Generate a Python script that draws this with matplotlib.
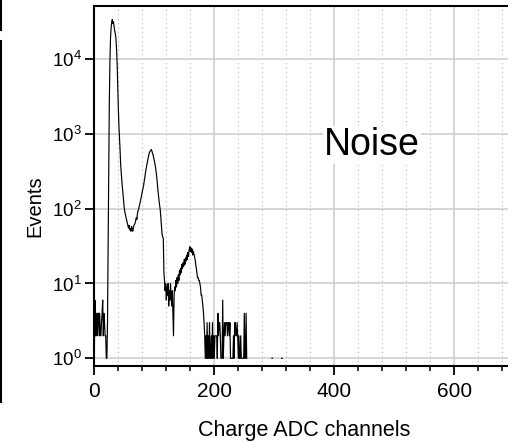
import numpy as np
import matplotlib
matplotlib.use("Agg")
import matplotlib.pyplot as plt
from matplotlib.ticker import MultipleLocator, NullLocator, FixedLocator
from matplotlib.lines import Line2D

plt.rcParams['font.family'] = ['Liberation Sans', 'DejaVu Sans']
plt.rcParams['mathtext.fontset'] = 'custom'
plt.rcParams['mathtext.rm'] = 'Liberation Sans'
plt.rcParams['mathtext.it'] = 'Liberation Sans:italic'
plt.rcParams['mathtext.default'] = 'regular'

# ---- data ----
channel = (list(range(0, 45)) + [46, 48, 50, 52, 54, 56, 57, 58, 59, 60, 61, 62, 63, 64, 65, 66,
           68, 70, 71, 72, 74, 76, 78, 80, 82, 84, 86, 88, 90, 92, 94, 95, 96, 98, 100,
           102, 104, 106, 108, 110] + list(range(111, 256)) +
           [295, 296, 297, 298, 311, 312, 313, 314])

events = ([1, 6, 2, 2, 4, 2, 4, 4, 2, 4, 2, 2, 3, 4, 6, 2, 4, 3, 2, 2, 1, 1,
           3, 30, 300, 2500, 9000, 19000, 26000, 31000, 34000, 30000, 31500, 27000,
           24000, 22000, 19000, 14000, 9000, 4500, 2300, 1300, 900, 600, 380] +
          [230, 150, 100, 82, 70, 60, 55, 60, 52, 54, 50, 58, 55, 50, 54, 60,
           64, 76, 72, 88, 100, 118, 140, 170, 200, 260, 330, 400, 490, 570, 600, 620,
           590, 520, 440, 360, 270, 180, 125, 95] +
          # 111 .. 184
          [75, 60, 45, 42, 40, 14, 11, 8, 10, 6, 9, 7, 10, 5, 8, 6, 10, 7, 5, 8,
           4, 2, 7, 9, 8, 11, 9, 12, 10, 13, 11, 15, 13, 16, 14, 18, 16, 19, 17, 21,
           18, 22, 20, 24, 21, 26, 23, 28, 31, 27, 30, 26, 29, 24, 27, 25, 23, 21, 18, 16,
           14, 12, 12, 11, 11, 10, 9, 7, 7, 6, 5, 4, 3, 2] +
          # 185 .. 255
          [1, 2, 1, 3, 1, 2, 1, 3, 1, 1, 2, 1, 3, 1, 2, 1, 2, 2, 2, 2,
           1, 4, 2, 3, 3, 2, 1, 1, 1, 6, 1, 2, 3, 2, 3, 3, 3, 2, 3, 3,
           2, 3, 1, 1, 1, 1, 1, 2, 1, 3, 3, 2, 2, 3, 2, 1, 2, 1, 1, 2,
           1, 1, 1, 1, 1, 4, 1, 1, 4, 1, 0] +
          [0, 1, 1, 0, 0, 1, 1, 0])

x_major = [0, 200, 400, 600]
x_labels = ['0', '200', '400', '600']
y_major = [1, 10, 100, 1000, 10000]

x = np.array(channel, dtype=float)
y = np.array(events, dtype=float)
y = np.where(y > 0, y, np.nan)

W, H = 508, 443
fig = plt.figure(figsize=(W / 100, H / 100), dpi=100)
fig.patch.set_facecolor('white')

left_px, bottom_px, top_px = 94.3, 365.7, 5.7
ax_w_px = 420.0
ax_h_px = bottom_px - top_px
ax = fig.add_axes([left_px / W, 1 - bottom_px / H, ax_w_px / W, ax_h_px / H])

ax.plot(x, y, color='black', lw=0.85)

ax.set_yscale('log')
ax.set_xlim(0, 700)
ax.set_ylim(0.796, 51800)

ax.xaxis.set_major_locator(FixedLocator(x_major))
ax.set_xticklabels(x_labels)
ax.xaxis.set_minor_locator(MultipleLocator(40))
ax.yaxis.set_major_locator(FixedLocator(y_major))
ax.yaxis.set_minor_locator(NullLocator())

ax.grid(which='major', axis='both', color='#cfcfcf', lw=1.2, ls='-')
ax.grid(which='minor', axis='x', color='#b5b5b5', lw=0.8, ls=(0, (1, 3)))
ax.set_axisbelow(True)

for s in ax.spines.values():
    s.set_linewidth(1.5)
    s.set_color('black')

ax.tick_params(axis='both', which='major', direction='out', length=6.5, width=1.3, color='black')
ax.tick_params(axis='x', which='minor', direction='out', length=3.6, width=1.1, color='black')
ax.tick_params(axis='x', which='major', labelsize=15, pad=5.5)
ax.tick_params(axis='y', which='major', labelsize=13.5, pad=2.5)
ax.tick_params(top=False, right=False)

ax.set_xlabel('Charge ADC channels', fontsize=15.5)
ax.xaxis.label.set_va('baseline')
ax.xaxis.set_label_coords(0.5, (bottom_px - 436) / ax_h_px)

ax.set_ylabel('Events', fontsize=14.5)
ax.yaxis.label.set_va('baseline')
ax.yaxis.set_label_coords((40 - left_px) / ax_w_px, (bottom_px - 206) / ax_h_px)

ax.text((372 - left_px) / ax_w_px, (bottom_px - 155) / ax_h_px, 'Noise',
        transform=ax.transAxes, ha='center', va='baseline', fontsize=27,
        family=['Liberation Sans Narrow', 'Liberation Sans', 'DejaVu Sans'],
        bbox=dict(facecolor='white', edgecolor='none', pad=0.5), zorder=5)

# edge of the neighbouring panel at the far left
fig.add_artist(Line2D([0.5 / W, 0.5 / W], [1 - 0 / H, 1 - 30 / H], color='black', lw=1.5))
fig.add_artist(Line2D([0.8 / W, 0.8 / W], [1 - 41 / H, 1 - 402 / H], color='black', lw=1.5))

fig.savefig('out.png', dpi=100)
